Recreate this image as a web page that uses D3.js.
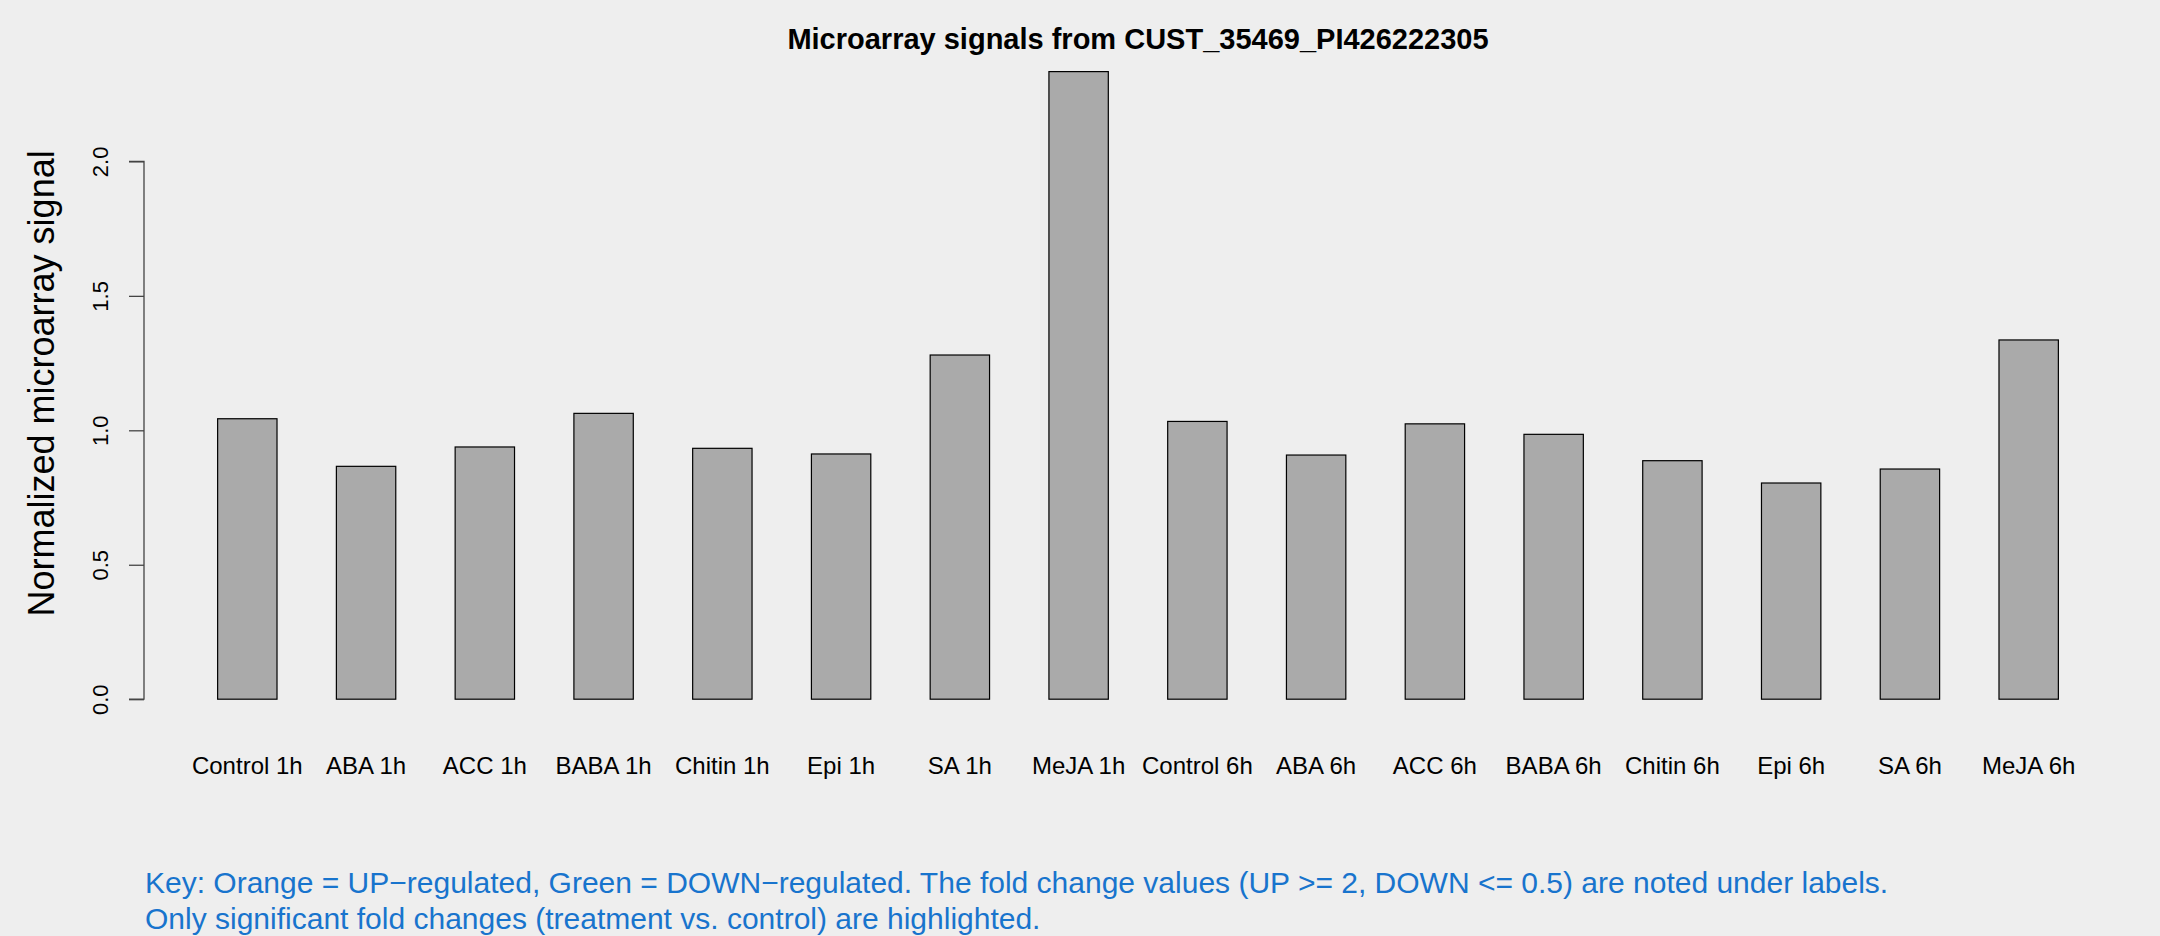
<!DOCTYPE html>
<html>
<head>
<meta charset="utf-8">
<script src="https://cdn.jsdelivr.net/npm/d3@7"></script>
<style>
  html, body { margin: 0; padding: 0; background: #EEEEEE; }
  svg { display: block; }
  text { font-family: "Liberation Sans", Arial, Helvetica, sans-serif; }
</style>
</head>
<body>
<script>
const categories = ["Control 1h","ABA 1h","ACC 1h","BABA 1h","Chitin 1h","Epi 1h","SA 1h","MeJA 1h",
                    "Control 6h","ABA 6h","ACC 6h","BABA 6h","Chitin 6h","Epi 6h","SA 6h","MeJA 6h"];
const values = [1.043, 0.866, 0.938, 1.063, 0.933, 0.912, 1.280, 2.334,
                1.033, 0.908, 1.024, 0.985, 0.887, 0.804, 0.856, 1.336];
const yTicks = [0, 0.5, 1.0, 1.5, 2.0];
const yTickLabels = ["0.0", "0.5", "1.0", "1.5", "2.0"];
const titleText = "Microarray signals from CUST_35469_PI426222305";
const yLabel = "Normalized microarray signal";
const keyLines = [
  "Key: Orange = UP\u2212regulated, Green = DOWN\u2212regulated. The fold change values (UP >= 2, DOWN <= 0.5) are noted under labels.",
  "Only significant fold changes (treatment vs. control) are highlighted."
];

const W = 2160, H = 936;
const plot = {left: 144, right: 2132, top: 46.5, bottom: 724.3};
const space = 1, barW = 1;
const n = categories.length;
const xMax = n * (barW + space);
const xPad = (xMax - space) * 0.04;
const x = d3.scaleLinear().domain([space - xPad, xMax + xPad]).range([plot.left, plot.right]);
const yMaxV = d3.max(values);
const yPad = yMaxV * 0.04;
const y = d3.scaleLinear().domain([-yPad, yMaxV + yPad]).range([plot.bottom, plot.top]);

const svg = d3.select("body").append("svg").attr("width", W).attr("height", H);
svg.append("rect").attr("width", W).attr("height", H).attr("fill", "#EEEEEE");

// bars
svg.append("g").selectAll("rect").data(values).join("rect")
  .attr("x", (d, i) => x(space + i * (barW + space)))
  .attr("width", (d, i) => x(space + i * (barW + space) + barW) - x(space + i * (barW + space)))
  .attr("y", d => y(d))
  .attr("height", d => y(0) - y(d))
  .attr("fill", "#AAAAAA")
  .attr("stroke", "#000")
  .attr("stroke-width", 1.2);

// y axis
const yAxis = d3.axisLeft(y).tickValues(yTicks).tickFormat((d, i) => yTickLabels[i]).tickSize(15).tickPadding(8);
const gy = svg.append("g").attr("transform", `translate(${plot.left},0)`).call(yAxis);
gy.select(".domain").attr("stroke", "#444").attr("stroke-width", 1.3)
  .attr("d", `M-15,${y(yTicks[0])}H0V${y(yTicks[yTicks.length - 1])}H-15`);
gy.selectAll(".tick line").attr("stroke", "#444").attr("stroke-width", 1.3);
gy.selectAll(".tick text")
  .attr("font-size", 22)
  .attr("fill", "#000")
  .attr("x", null).attr("dy", null).attr("y", null)
  .attr("text-anchor", "middle")
  .attr("dominant-baseline", "central")
  .attr("transform", "translate(-44,0) rotate(-90)");

// x labels
svg.append("g").selectAll("text").data(categories).join("text")
  .attr("x", (d, i) => x(space + i * (barW + space) + barW / 2))
  .attr("y", 774)
  .attr("text-anchor", "middle")
  .attr("font-size", 24)
  .attr("fill", "#000")
  .text(d => d);

// title
svg.append("text")
  .attr("x", (plot.left + plot.right) / 2)
  .attr("y", 49)
  .attr("text-anchor", "middle")
  .attr("font-size", 29)
  .attr("font-weight", "bold")
  .attr("fill", "#000")
  .text(titleText);

// y label
svg.append("text")
  .attr("transform", `translate(54,${(plot.top + plot.bottom) / 2 - 2}) rotate(-90)`)
  .attr("text-anchor", "middle")
  .attr("font-size", 36)
  .attr("fill", "#000")
  .text(yLabel);

// key
svg.append("g").selectAll("text").data(keyLines).join("text")
  .attr("x", 145)
  .attr("y", (d, i) => 893 + i * 36)
  .attr("font-size", 30)
  .attr("fill", "#1874CD")
  .text(d => d);
</script>
</body>
</html>
